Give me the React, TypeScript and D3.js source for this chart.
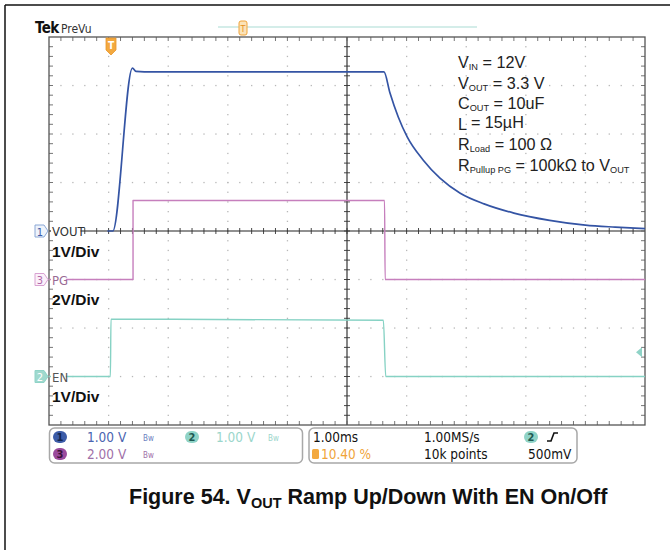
import React from "react";
import * as d3 from "d3";

// ---- Data (time in ms, 1 ms/div, 10 divisions) ----
const VOUT_T = [0.98, 1.07, 1.40, 1.46, 1.6, 2.5, 3.5, 4.5, 5.0, 5.62, 5.72, 5.86, 6.01, 6.28, 6.56, 6.90, 7.3, 7.8, 8.4, 9.0, 9.5, 10.0];
const VOUT_V = [0, 0, 3.36, 3.29, 3.28, 3.28, 3.28, 3.28, 3.28, 3.28, 2.85, 2.35, 1.94, 1.46, 1.09, 0.78, 0.56, 0.37, 0.22, 0.12, 0.08, 0.05];
const PG_T = [0, 1.41, 1.41, 5.63, 5.64, 10];
const PG_V = [0, 0, 3.26, 3.26, 0, 0];
const EN_T = [0, 1.03, 1.04, 5.61, 5.65, 10];
const EN_V = [0, 0, 1.18, 1.16, 0, 0];

const NOTES = [
  { main: "V", sub: "IN", rest: " = 12V" },
  { main: "V", sub: "OUT", rest: " = 3.3 V" },
  { main: "C", sub: "OUT", rest: " = 10uF" },
  { main: "L", sub: "", rest: " = 15\u00b5H" },
  { main: "R", sub: "Load", rest: " = 100 \u03a9" },
  { main: "R", sub: "Pullup PG", rest: " = 100k\u03a9 to V", sub2: "OUT" },
];

const CH = [
  { id: "1", name: "VOUT", scale: 1, offset: 0, color: "#3454a4", t: VOUT_T, v: VOUT_V, width: 1.7, perDiv: "1V/Div" },
  { id: "3", name: "PG", scale: 2, offset: -1, color: "#c67fbd", t: PG_T, v: PG_V, width: 1.4, perDiv: "2V/Div" },
  { id: "2", name: "EN", scale: 1, offset: -3, color: "#86d2c4", t: EN_T, v: EN_V, width: 1.4, perDiv: "1V/Div" },
];

const L = 49, R = 645, TOP = 37, BOT = 425;
const narrow = "'Liberation Sans Narrow', 'DejaVu Sans Condensed', 'DejaVu Sans', sans-serif";
const arial = "'Liberation Sans', Arial, sans-serif";

export default function App() {
  const x = d3.scaleLinear().domain([0, 10]).range([L, R]);
  const yd = d3.scaleLinear().domain([-4, 4]).range([BOT, TOP]);
  const cx = x(5), cy = yd(0);
  const dx = (R - L) / 50, dy = (BOT - TOP) / 40;

  const dots: JSX.Element[] = [];
  for (let i = 1; i < 10; i++) {
    if (i === 5) continue;
    for (let k = 1; k < 40; k++) {
      dots.push(<rect key={`v${i}-${k}`} x={x(i) - 0.6} y={TOP + k * dy - 0.6} width={1.3} height={1.3} fill="#b8b8b8" />);
    }
  }
  for (let j = -3; j <= 3; j++) {
    if (j === 0) continue;
    for (let k = 1; k < 50; k++) {
      dots.push(<rect key={`h${j}-${k}`} x={L + k * dx - 0.6} y={yd(j) - 0.6} width={1.3} height={1.3} fill="#b8b8b8" />);
    }
  }
  const ticks: JSX.Element[] = [];
  for (let k = 1; k < 50; k++) {
    const xx = L + k * dx;
    ticks.push(<line key={`ct${k}`} x1={xx} x2={xx} y1={cy - 3} y2={cy + 3} stroke="#333" strokeWidth={0.9} />);
    ticks.push(<line key={`tt${k}`} x1={xx} x2={xx} y1={TOP} y2={TOP + 4} stroke="#666" strokeWidth={0.9} />);
    ticks.push(<line key={`bt${k}`} x1={xx} x2={xx} y1={BOT} y2={BOT - 4} stroke="#666" strokeWidth={0.9} />);
  }
  for (let k = 1; k < 40; k++) {
    const yy = TOP + k * dy;
    ticks.push(<line key={`cv${k}`} x1={cx - 3} x2={cx + 3} y1={yy} y2={yy} stroke="#333" strokeWidth={0.9} />);
    ticks.push(<line key={`lt${k}`} x1={L} x2={L + 4} y1={yy} y2={yy} stroke="#666" strokeWidth={0.9} />);
    ticks.push(<line key={`rt${k}`} x1={R} x2={R - 4} y1={yy} y2={yy} stroke="#666" strokeWidth={0.9} />);
  }

  const traces = CH.map((c) => {
    const pts: [number, number][] = c.t.map((t, i) => [x(t), yd(c.v[i] / c.scale + c.offset)]);
    const line = d3.line().curve(d3.curveMonotoneX)(pts) as string;
    return <path key={c.id} d={line} fill="none" stroke={c.color} strokeWidth={c.width} strokeLinejoin="round" />;
  });

  const markerStyles: Record<string, { stroke: string; fill: string; text: string; label: string }> = {
    "1": { stroke: "#8aa8d6", fill: "#eef3fb", text: "#3c5ca8", label: "#333" },
    "3": { stroke: "#d9a2d2", fill: "#fbf0fa", text: "#b068a8", label: "#9a6a94" },
    "2": { stroke: "#8fd3c7", fill: "#9fd9ce", text: "#ffffff", label: "#555" },
  };

  const labels = CH.map((c) => {
    const gy = yd(c.offset);
    const ms = markerStyles[c.id];
    const w = c.name.length * 7.4;
    return (
      <g key={`lab${c.id}`}>
        <path d={`M35,${gy - 6} L44,${gy - 6} L48,${gy} L44,${gy + 6} L35,${gy + 6} Z`} fill={ms.fill} stroke={ms.stroke} strokeWidth={1} />
        <text x={40} y={gy + 4.5} fontSize={11} fontFamily={narrow} fill={ms.text} textAnchor="middle">{c.id}</text>
        <rect x={51} y={gy - 6} width={w} height={12} fill="white" />
        <text x={52} y={gy + 5} fontSize={13} fontFamily={narrow} fill={ms.label}>{c.name}</text>
        <text x={52} y={gy + 25.5} fontSize={15.5} fontWeight="bold" fontFamily={arial} fill="#111">{c.perDiv}</text>
      </g>
    );
  });

  const noteY = [68, 88.5, 109, 129.5, 150, 170.5];

  return (
    <svg width={670} height={550} style={{ position: "absolute", left: 0, top: 0, background: "white" }}>
      <rect x={0} y={0} width={670} height={550} fill="white" />
      {/* outer frame */}
      <line x1={5} y1={5} x2={670} y2={5} stroke="#111" strokeWidth={1.5} />
      <line x1={5} y1={5} x2={5} y2={550} stroke="#111" strokeWidth={1.5} />

      {/* header */}
      <text x={35} y={33} fontSize={15} fontWeight="bold" fontFamily={narrow} fill="#111" letterSpacing={-0.5}>Tek</text>
      <text x={61} y={33} fontSize={12} fontFamily={narrow} fill="#333">PreVu</text>
      <line x1={218} x2={477} y1={27} y2={27} stroke="#a9dbd3" strokeWidth={1.2} />
      <g>
        <rect x={239} y={21} width={8} height={14} rx={2} fill="#fbe3b8" stroke="#f0a43a" strokeWidth={1} />
        <text x={243} y={32} fontSize={9} fontFamily={narrow} fill="#e58f1d" textAnchor="middle">T</text>
      </g>

      {/* graticule */}
      {dots}
      <line x1={L} x2={R} y1={cy} y2={cy} stroke="#222" strokeWidth={1.1} />
      <line x1={cx} x2={cx} y1={TOP} y2={BOT} stroke="#222" strokeWidth={1.1} />
      {ticks}
      <rect x={L} y={TOP} width={R - L} height={BOT - TOP} fill="none" stroke="#555" strokeWidth={1.3} />

      {/* traces */}
      {traces}

      {/* trigger markers */}
      <g>
        <path d={`M106,${TOP + 1} L116,${TOP + 1} L116,${TOP + 13} L111,${TOP + 18} L106,${TOP + 13} Z`} fill="#f3a93f" stroke="#e8962a" strokeWidth={0.8} />
        <text x={111} y={TOP + 12} fontSize={10} fontWeight="bold" fontFamily={narrow} fill="#fff" textAnchor="middle">T</text>
      </g>
      <path d={`M${R - 9},${yd(-3 + 0.5)} L${R - 3},${yd(-3 + 0.5) - 5} L${R - 3},${yd(-3 + 0.5) + 5} Z`} fill="#8fd3c7" />

      {/* channel labels */}
      {labels}

      {/* notes */}
      {NOTES.map((n, i) => (
        <text key={`n${i}`} x={458} y={noteY[i]} fontSize={16.2} fontFamily={arial} fill="#222">
          {n.main}
          <tspan fontSize={9.2} dy={2}>{n.sub}</tspan>
          <tspan fontSize={16.2} dy={-2}>{n.rest}</tspan>
          {n.sub2 ? <tspan fontSize={9.2} dy={2}>{n.sub2}</tspan> : null}
        </text>
      ))}

      {/* info boxes */}
      <rect x={49.5} y={428} width={253} height={35} rx={5} fill="white" stroke="#a8a8a8" strokeWidth={1.5} />
      <rect x={309} y={428} width={268} height={35} rx={5} fill="white" stroke="#a8a8a8" strokeWidth={1.5} />
      {/* row1 box1 */}
      <rect x={53} y={431} width={14} height={12} rx={6} fill="#3c5ca8" />
      <text x={60} y={441} fontSize={11} fontWeight="bold" fontFamily={narrow} fill="#13254f" textAnchor="middle">1</text>
      <text x={87} y={442} fontSize={13.5} fontFamily={narrow} fill="#4a64b0">1.00 V</text>
      <text x={143} y={441} fontSize={8} fontFamily={narrow} fill="#6a7fc0">Bw</text>
      <rect x={185} y={431} width={14} height={12} rx={6} fill="#8fd3c7" />
      <text x={192} y={441} fontSize={11} fontWeight="bold" fontFamily={narrow} fill="#1f5a52" textAnchor="middle">2</text>
      <text x={216} y={442} fontSize={13.5} fontFamily={narrow} fill="#9bd6cb">1.00 V</text>
      <text x={268} y={441} fontSize={8} fontFamily={narrow} fill="#9bd6cb">Bw</text>
      {/* row2 box1 */}
      <rect x={53} y={448} width={14} height={12} rx={6} fill="#9a4a9c" />
      <text x={60} y={458} fontSize={11} fontWeight="bold" fontFamily={narrow} fill="#3a123a" textAnchor="middle">3</text>
      <text x={87} y={459} fontSize={13.5} fontFamily={narrow} fill="#a070a8">2.00 V</text>
      <text x={143} y={458} fontSize={8} fontFamily={narrow} fill="#a070a8">Bw</text>
      {/* box2 */}
      <text x={313} y={442} fontSize={13.5} fontFamily={narrow} fill="#111">1.00ms</text>
      <text x={424} y={442} fontSize={13.5} fontFamily={narrow} fill="#111">1.00MS/s</text>
      <rect x={524} y={431} width={14} height={12} rx={6} fill="#8fd3c7" />
      <text x={531} y={441} fontSize={11} fontWeight="bold" fontFamily={narrow} fill="#1f5a52" textAnchor="middle">2</text>
      <path d="M547,441 L551,441 L554,433 L558,433" fill="none" stroke="#111" strokeWidth={1.6} />
      <rect x={312} y={449} width={7} height={10} rx={1.5} fill="#f3a93f" />
      <text x={321} y={459} fontSize={13.5} fontFamily={narrow} fill="#f0a43a">10.40 %</text>
      <text x={424} y={459} fontSize={13.5} fontFamily={narrow} fill="#111">10k points</text>
      <text x={528} y={459} fontSize={13.5} fontFamily={narrow} fill="#111">500mV</text>

      {/* caption */}
      <text x={129} y={504} fontSize={21.5} fontWeight="bold" fontFamily={arial} fill="#111">
        Figure 54. V<tspan fontSize={14.5} dy={4}>OUT</tspan>
        <tspan dy={-4}> Ramp Up/Down With EN On/Off</tspan>
      </text>
    </svg>
  );
}
